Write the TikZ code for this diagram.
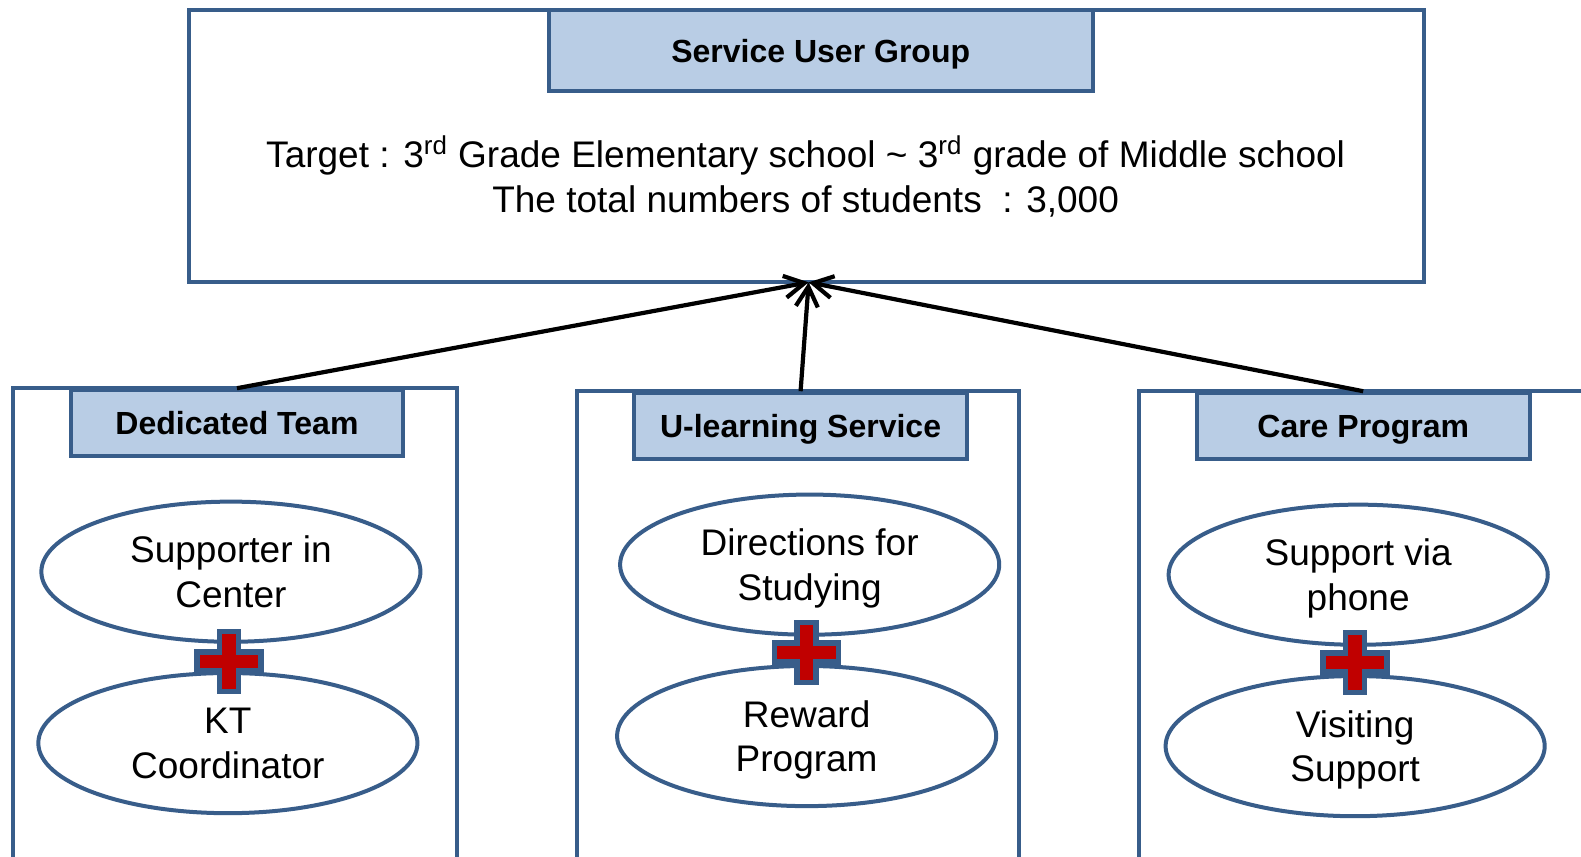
\documentclass[tikz,border=0pt]{standalone}
\usepackage{fontspec}
\setmainfont{Liberation Sans}
\usetikzlibrary{shapes.geometric,arrows.meta}
\definecolor{bord}{RGB}{56,93,138}
\definecolor{tfill}{RGB}{185,205,229}
\definecolor{pred}{RGB}{192,0,0}
\def\U{0.50414pt}
\tikzset{
  outerbox/.style={draw=bord,line width=2pt,fill=white,minimum width=#1*\U,minimum height=520*\U,inner sep=0pt},
  titlebox/.style={draw=bord,line width=2pt,fill=tfill,minimum width=330*\U,minimum height=65*\U,inner sep=0pt,
     text depth=0pt,font=\fontsize{16pt}{19pt}\selectfont\bfseries},
  oval/.style={ellipse,draw=bord,line width=2pt,fill=white,minimum width=376*\U,minimum height=139*\U,inner sep=0pt,
     text depth=0pt,align=center,font=\fontsize{18.5pt}{22.2pt}\selectfont},
  conn/.style={line width=2.1pt,-{Straight Barb[length=10pt,width=11pt,line width=2.1pt]}},
  plus/.pic={
    \draw[fill=pred,draw=bord,line width=2.75pt,line join=miter]
      (-4.75pt,-15pt) -- (4.75pt,-15pt) -- (4.75pt,-4.75pt) -- (16pt,-4.75pt) -- (16pt,4.75pt) -- (4.75pt,4.75pt)
      -- (4.75pt,15pt) -- (-4.75pt,15pt) -- (-4.75pt,4.75pt) -- (-16pt,4.75pt) -- (-16pt,-4.75pt) -- (-4.75pt,-4.75pt) -- cycle;
  }
}
\begin{document}
\begin{tikzpicture}[x=0.50414pt,y=-0.50414pt]
\useasboundingbox (0,0) rectangle (1568,849);
\clip (0,0) rectangle (1568,849);
% top
\node[draw=bord,line width=2pt,minimum width=1225*\U,minimum height=270*\U,inner sep=0pt] (top) at (799.5,145) {};
\node[titlebox,minimum width=540*\U,minimum height=80*\U] (sug) at (814,50) {Service User Group};
\node[align=center,font=\fontsize{18.5pt}{22.5pt}\selectfont] (target) at (799,175)
  {Target : 3\textsuperscript{rd} Grade Elementary school \textasciitilde{} 3\textsuperscript{rd} grade of Middle school\\
   The total numbers of students~~: 3,000};
\coordinate (tip) at (802,280);
% left
\node[outerbox=440] (lout) at (233,645) {};
\node[titlebox] (ded) at (235,419.5) {Dedicated Team};
\node[oval] (sup) at (229,567) {Supporter in\\Center};
\node[oval] (kt) at (226,737) {KT\\Coordinator};
\pic at (227,656) {plus};
% middle
\node[outerbox=439] (mout) at (791.5,648) {};
\node[titlebox] (ul) at (794,422.5) {U-learning Service};
\node[oval] (dir) at (803,560) {Directions for\\Studying};
\node[oval] (rew) at (800,730) {Reward\\Program};
\pic at (800,647) {plus};
% right
\node[outerbox=520] (rout) at (1390,648) {};
\node[titlebox] (care) at (1352,422.5) {Care Program};
\node[oval] (phone) at (1347,570) {Support via\\phone};
\node[oval] (visit) at (1344,740) {Visiting\\Support};
\pic at (1344,657) {plus};
% connectors
\draw[conn] (ded.north) -- (tip);
\draw[conn] (ul.north) -- (tip);
\draw[conn] (care.north) -- (tip);
\end{tikzpicture}
\end{document}
